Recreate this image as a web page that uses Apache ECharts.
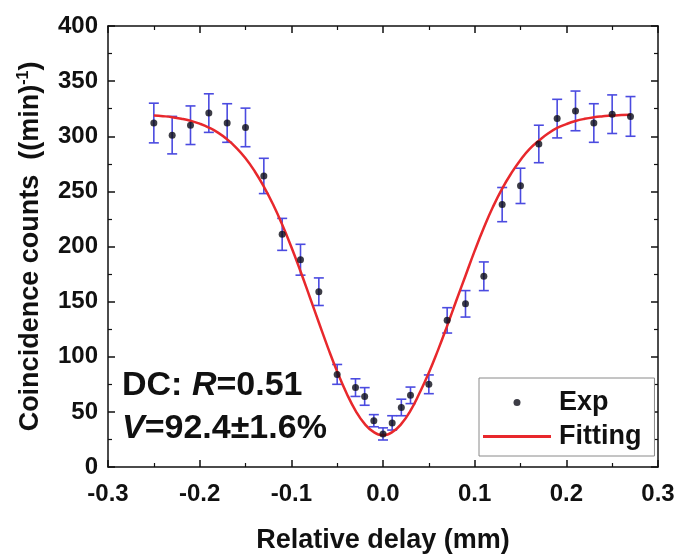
<!DOCTYPE html>
<html>
<head>
<meta charset="utf-8">
<script src="https://cdn.jsdelivr.net/npm/echarts@6/dist/echarts.min.js"></script>
<style>
html, body { margin: 0; padding: 0; background: #fff; }
#hom { width: 687px; height: 555px; }
</style>
</head>
<body>
<div id="hom"></div>
<script>
// measured points (delay in mm, counts per min, half error bar)
var delayX = [-0.25, -0.23, -0.21, -0.19, -0.17, -0.15, -0.13, -0.11, -0.09, -0.07, -0.05, -0.03, -0.02, -0.01, 0,
	0.01, 0.02, 0.03, 0.05, 0.07, 0.09, 0.11, 0.13, 0.15, 0.17, 0.19, 0.21, 0.23, 0.25, 0.27];
var counts = [312, 301, 310, 321, 312, 308, 264, 211, 188, 159, 84, 72, 64, 42, 30,
	40, 54, 65, 75, 133, 148, 173, 238, 255, 293, 316, 323, 312, 320, 318];
var errs = [18, 17, 17.5, 17.5, 17.5, 17.5, 16, 14.5, 14, 12.5, 9, 8, 8, 5.5, 5.5,
	6.5, 7.5, 7.5, 8.5, 11.5, 12, 13, 15.5, 16, 17, 17.5, 18, 17.5, 17.5, 18];

// fitted curve, every 0.01 mm
var fitX = [-0.25, -0.24, -0.23, -0.22, -0.21, -0.20, -0.19, -0.18, -0.17, -0.16, -0.15, -0.14, -0.13, -0.12, -0.11,
	-0.10, -0.09, -0.08, -0.07, -0.06, -0.05, -0.04, -0.03, -0.02, -0.01, 0,
	0.01, 0.02, 0.03, 0.04, 0.05, 0.06, 0.07, 0.08, 0.09, 0.10, 0.11, 0.12, 0.13, 0.14, 0.15,
	0.16, 0.17, 0.18, 0.19, 0.20, 0.21, 0.22, 0.23, 0.24, 0.25, 0.26, 0.27];
var fitY = [318.8, 318.2, 317.3, 315.9, 314.0, 311.4, 307.9, 303.3, 297.2, 289.5, 280.0, 268.3, 254.4, 238.3, 219.9,
	199.5, 177.5, 154.4, 131.1, 108.1, 86.6, 67.4, 51.2, 39.1, 31.6, 29.0,
	31.6, 39.1, 51.2, 67.4, 85.5, 106.0, 128.0, 151.0, 173.5, 196.0, 217.0, 236.0, 252.5, 266.5, 278.5,
	288.5, 296.0, 302.5, 307.5, 311.0, 313.8, 315.8, 317.2, 318.1, 318.8, 319.2, 319.5];

var xTicks = [-0.3, 0.3, 0.1];
var yTicks = [0, 400, 50];

var FONT = 'Liberation Sans, Arial, Helvetica, sans-serif';

var expData = [], errData = [], fitData = [];
for (var i = 0; i < delayX.length; i++) {
	expData.push([delayX[i], counts[i]]);
	errData.push([delayX[i], counts[i] - errs[i], counts[i] + errs[i]]);
}
for (var j = 0; j < fitX.length; j++) {
	fitData.push([fitX[j], fitY[j]]);
}

var chart = echarts.init(document.getElementById('hom'), null, {renderer: 'canvas'});

// box frame: all four sides get inward ticks, only bottom/left get labels
function frameAxis(pos, isX) {
	return {
		type: 'value',
		position: pos,
		min: isX ? xTicks[0] : yTicks[0],
		max: isX ? xTicks[1] : yTicks[1],
		interval: isX ? xTicks[2] : yTicks[2],
		axisLine: {show: true, onZero: false, lineStyle: {color: '#111', width: 1.5}},
		axisTick: {show: true, inside: true, length: 7, lineStyle: {color: '#111', width: 1.5}},
		minorTick: {show: true, splitNumber: 2, length: 4, lineStyle: {color: '#111', width: 1.2}},
		splitLine: {show: false},
		axisLabel: {show: false}
	};
}

var xBottom = frameAxis('bottom', true);
xBottom.axisLabel = {
	show: true, margin: 15, color: '#111', fontSize: 24, fontWeight: 'bold', fontFamily: FONT,
	formatter: function (v) { return v.toFixed(1); }
};
xBottom.name = 'Relative delay (mm)';
xBottom.nameLocation = 'middle';
xBottom.nameGap = 60;
xBottom.nameTextStyle = {color: '#111', fontSize: 27, fontWeight: 'bold', fontFamily: FONT};

var yLeft = frameAxis('left', false);
yLeft.axisLabel = {show: true, margin: 10, color: '#111', fontSize: 24, fontWeight: 'bold', fontFamily: FONT};
yLeft.name = '{t|Coincidence counts  ((min)}{s|-1}{t|)}';
yLeft.nameLocation = 'middle';
yLeft.nameGap = 62;
yLeft.nameTextStyle = {
	color: '#111', fontFamily: FONT,
	rich: {
		t: {fontSize: 27, fontWeight: 'bold', fontFamily: FONT, color: '#111'},
		s: {fontSize: 16, fontWeight: 'bold', fontFamily: FONT, color: '#111', verticalAlign: 'top', padding: [0, 0, 14, 0]}
	}
};

option = {
	animation: false,
	backgroundColor: '#fff',
	grid: {left: 108, right: 29, top: 26, bottom: 88, containLabel: false, outerBoundsMode: 'none'},
	xAxis: [xBottom, frameAxis('top', true)],
	yAxis: [yLeft, frameAxis('right', false)],
	legend: {
		orient: 'vertical',
		left: 479, top: 378,
		itemWidth: 68, itemHeight: 7, itemGap: 7,
		padding: [11, 13, 6, 4],
		borderColor: '#8a8a8a', borderWidth: 1,
		backgroundColor: '#fff',
		textStyle: {color: '#111', fontSize: 27, fontWeight: 'bold', fontFamily: FONT, padding: [0, 0, 0, 3]},
		data: [
			{name: 'Exp', icon: 'circle'},
			{name: 'Fitting', icon: 'path://M0,0H68V3H0Z'}
		]
	},
	graphic: [
		{
			type: 'text', x: 122, y: 386,
			style: {
				text: '{b|DC: }{i|R}{b|=0.51}',
				verticalAlign: 'middle',
				rich: {
					b: {fontSize: 34, fontWeight: 'bold', fontFamily: FONT, fill: '#111'},
					i: {fontSize: 34, fontWeight: 'bold', fontStyle: 'italic', fontFamily: FONT, fill: '#111'}
				}
			}
		},
		{
			type: 'text', x: 122, y: 429,
			style: {
				text: '{i|V}{b|=92.4\u00b11.6%}',
				verticalAlign: 'middle',
				rich: {
					b: {fontSize: 34, fontWeight: 'bold', fontFamily: FONT, fill: '#111'},
					i: {fontSize: 34, fontWeight: 'bold', fontStyle: 'italic', fontFamily: FONT, fill: '#111'}
				}
			}
		}
	],
	series: [
		{
			name: 'err',
			type: 'custom',
			xAxisIndex: 0, yAxisIndex: 0,
			data: errData,
			z: 2,
			renderItem: function (params, api) {
				var x = api.value(0);
				var lo = api.coord([x, api.value(1)]);
				var hi = api.coord([x, api.value(2)]);
				var w = 5;
				var st = {stroke: '#4b4be0', lineWidth: 1.6};
				return {
					type: 'group',
					children: [
						{type: 'line', shape: {x1: hi[0], y1: hi[1], x2: lo[0], y2: lo[1]}, style: st},
						{type: 'line', shape: {x1: hi[0] - w, y1: hi[1], x2: hi[0] + w, y2: hi[1]}, style: st},
						{type: 'line', shape: {x1: lo[0] - w, y1: lo[1], x2: lo[0] + w, y2: lo[1]}, style: st}
					]
				};
			}
		},
		{
			name: 'Fitting',
			type: 'line',
			data: fitData,
			smooth: true,
			symbol: 'none',
			z: 3,
			lineStyle: {color: '#e8282c', width: 2.5},
			itemStyle: {color: '#e8282c'}
		},
		{
			name: 'Exp',
			type: 'scatter',
			data: expData,
			symbol: 'circle',
			symbolSize: 7,
			z: 4,
			itemStyle: {color: '#0c0c18'}
		}
	]
};

chart.setOption(option);
</script>
</body>
</html>
